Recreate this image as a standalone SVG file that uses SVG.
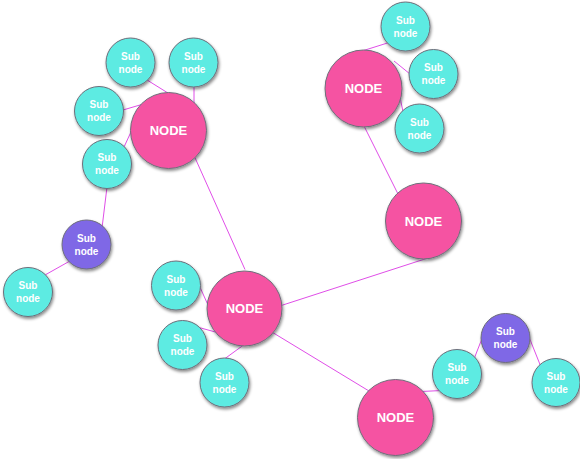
<svg xmlns="http://www.w3.org/2000/svg" width="580" height="459" viewBox="0 0 580 459">
<defs>
<filter id="sh" x="-30%" y="-30%" width="160%" height="160%">
<feDropShadow dx="1" dy="2" stdDeviation="1.5" flood-color="#000" flood-opacity="0.45"/>
</filter>
<style>
.c{stroke:#6e6e7a;stroke-width:1;filter:url(#sh)}
.big{fill:#f553a2}
.sub{fill:#5debe2}
.pur{fill:#7f68e6}
.t{fill:#fff;font-family:"Liberation Sans",Arial,sans-serif;font-weight:bold;text-anchor:middle}
.tb{font-size:13px}
.ts{font-size:10px}
.e line{stroke:#e04ee8;stroke-width:1}
</style>
</defs>
<rect width="580" height="459" fill="#fff"/>
<g class="e" id="connectors">
<line x1="145.3" y1="78.9" x2="169.7" y2="94.1"/>
<line x1="194" y1="85" x2="194" y2="104"/>
<line x1="121" y1="110.6" x2="142" y2="104.4"/>
<line x1="123.2" y1="148.8" x2="131.8" y2="130.2"/>
<line x1="107" y1="187" x2="102" y2="228"/>
<line x1="69" y1="261.5" x2="45" y2="275"/>
<line x1="194" y1="155.5" x2="245" y2="269.5"/>
<line x1="362" y1="51" x2="389" y2="42.5"/>
<line x1="394" y1="61" x2="410" y2="74"/>
<line x1="399.5" y1="95" x2="403.5" y2="114"/>
<line x1="363.5" y1="125" x2="398" y2="194"/>
<line x1="427" y1="258.3" x2="281" y2="305.6"/>
<line x1="199" y1="285" x2="208" y2="305"/>
<line x1="199" y1="327.5" x2="219" y2="333"/>
<line x1="223" y1="360" x2="247" y2="342.5"/>
<line x1="271" y1="331.5" x2="369" y2="391"/>
<line x1="421" y1="391.5" x2="442" y2="390.5"/>
<line x1="474" y1="359" x2="483" y2="336"/>
<line x1="529" y1="337" x2="541" y2="367"/>
</g>
<g id="s1"><circle class="c sub" cx="130.5" cy="62.5" r="24.5"/><text class="t ts" x="130.5" y="59.5">Sub</text><text class="t ts" x="130.5" y="72.5">node</text></g>
<g id="s2"><circle class="c sub" cx="193.5" cy="62.5" r="24.5"/><text class="t ts" x="193.5" y="59.5">Sub</text><text class="t ts" x="193.5" y="72.5">node</text></g>
<g id="s3"><circle class="c sub" cx="99" cy="111" r="24.5"/><text class="t ts" x="99" y="108">Sub</text><text class="t ts" x="99" y="121">node</text></g>
<g id="s4"><circle class="c sub" cx="107" cy="164" r="24.5"/><text class="t ts" x="107" y="161">Sub</text><text class="t ts" x="107" y="174">node</text></g>
<g id="s5"><circle class="c pur" cx="86.5" cy="244.5" r="24.5"/><text class="t ts" x="86.5" y="241.5">Sub</text><text class="t ts" x="86.5" y="254.5">node</text></g>
<g id="s6"><circle class="c sub" cx="28" cy="292" r="24.5"/><text class="t ts" x="28" y="289">Sub</text><text class="t ts" x="28" y="302">node</text></g>
<g id="n1"><circle class="c big" cx="168.5" cy="130.5" r="38"/><text class="t tb" x="168.5" y="135">NODE</text></g>
<g id="s10"><circle class="c sub" cx="405.5" cy="26.5" r="24.5"/><text class="t ts" x="405.5" y="23.5">Sub</text><text class="t ts" x="405.5" y="36.5">node</text></g>
<g id="s11"><circle class="c sub" cx="433.5" cy="74" r="24.5"/><text class="t ts" x="433.5" y="71">Sub</text><text class="t ts" x="433.5" y="84">node</text></g>
<g id="s12"><circle class="c sub" cx="419.5" cy="128.5" r="24.5"/><text class="t ts" x="419.5" y="125.5">Sub</text><text class="t ts" x="419.5" y="138.5">node</text></g>
<g id="n2"><circle class="c big" cx="363.5" cy="88.5" r="38.5"/><text class="t tb" x="363.5" y="93">NODE</text></g>
<g id="n3"><circle class="c big" cx="423.5" cy="221" r="38"/><text class="t tb" x="423.5" y="225.5">NODE</text></g>
<g id="s7"><circle class="c sub" cx="176" cy="285.5" r="24.5"/><text class="t ts" x="176" y="282.5">Sub</text><text class="t ts" x="176" y="295.5">node</text></g>
<g id="s8"><circle class="c sub" cx="182.5" cy="345" r="24.5"/><text class="t ts" x="182.5" y="342">Sub</text><text class="t ts" x="182.5" y="355">node</text></g>
<g id="s9"><circle class="c sub" cx="224.5" cy="382.5" r="24.5"/><text class="t ts" x="224.5" y="379.5">Sub</text><text class="t ts" x="224.5" y="392.5">node</text></g>
<g id="n4"><circle class="c big" cx="244.5" cy="308.5" r="37.5"/><text class="t tb" x="244.5" y="313">NODE</text></g>
<g id="n5"><circle class="c big" cx="395.5" cy="417.5" r="38"/><text class="t tb" x="395.5" y="422">NODE</text></g>
<g id="s13"><circle class="c sub" cx="457" cy="374" r="24.5"/><text class="t ts" x="457" y="371">Sub</text><text class="t ts" x="457" y="384">node</text></g>
<g id="s14"><circle class="c pur" cx="505.5" cy="338" r="24.5"/><text class="t ts" x="505.5" y="335">Sub</text><text class="t ts" x="505.5" y="348">node</text></g>
<g id="s15"><circle class="c sub" cx="556" cy="382.5" r="24"/><text class="t ts" x="556" y="379.5">Sub</text><text class="t ts" x="556" y="392.5">node</text></g>
</svg>
